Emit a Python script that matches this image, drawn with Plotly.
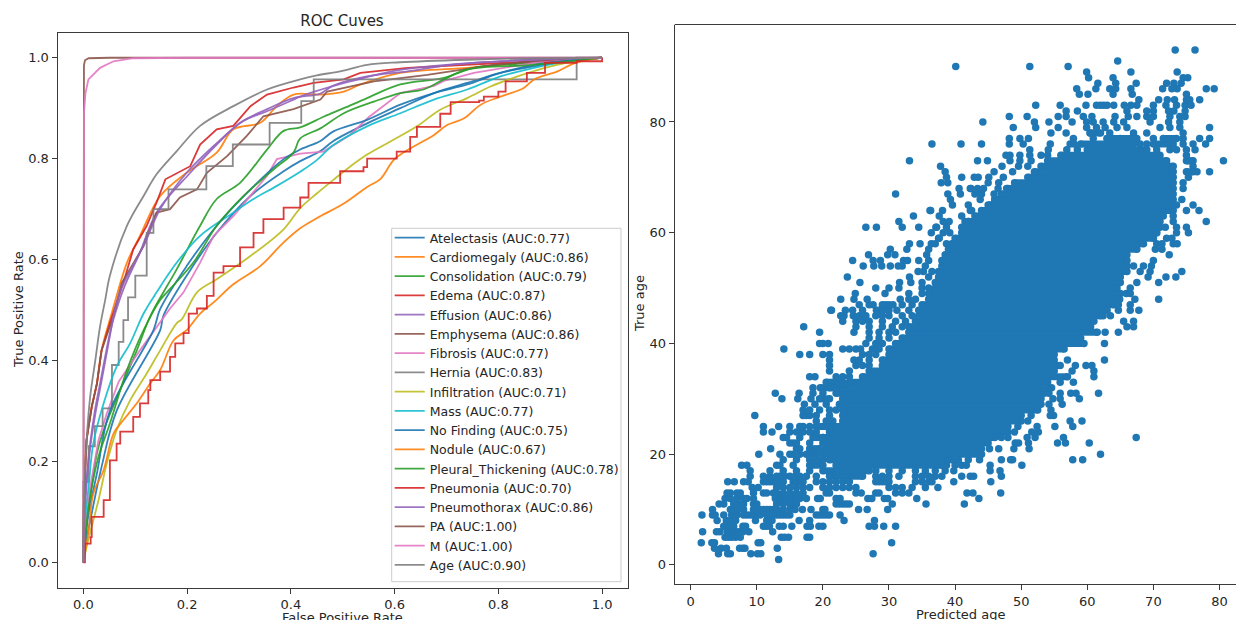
import plotly.graph_objects as go

W, H = 1236, 620
TAB = ["#1f77b4", "#ff7f0e", "#2ca02c", "#d62728", "#9467bd", "#8c564b", "#e377c2", "#7f7f7f", "#bcbd22", "#17becf"]

atelectasis_fpr = [0, .006, .016, .035, .064, .148, .154, .199, .257, .322, .386, .418, .457, .482, .547, .611, .676, .74, .804, .869, .933, 1]
atelectasis_tpr = [0, .045, .097, .189, .30, .46, .488, .568, .653, .726, .775, .795, .815, .835, .87, .9, .93, .95, .97, .983, .993, 1]
cardiomegaly_fpr = [0, .001, .006, .016, .026, .035, .055, .084, .109, .148, .199, .257, .289, .341, .373, .405, .457, .502, .534, .611, .74, .804, .933, 1]
cardiomegaly_tpr = [0, .123, .242, .308, .354, .42, .495, .594, .647, .726, .772, .812, .858, .871, .904, .927, .927, .933, .947, .97, .98, .986, .996, 1]
consolidation_fpr = [0, .001, .013, .026, .039, .068, .103, .129, .18, .225, .257, .302, .354, .386, .418, .463, .502, .547, .611, .695, .753, .869, .966, 1]
consolidation_tpr = [0, .044, .13, .216, .262, .335, .42, .488, .581, .667, .72, .752, .818, .855, .862, .883, .9, .92, .947, .96, .98, .99, .998, 1]
edema_fpr = [0, .001, .006, .016, .026, .035, .051, .058, .077, .096, .122, .141, .158, .206, .225, .257, .289, .322, .354, .405, .444, .502, .534, .625, .74, .869, 1]
edema_tpr = [0, .123, .242, .308, .354, .42, .474, .495, .554, .62, .667, .713, .759, .785, .828, .858, .865, .904, .927, .941, .95, .957, .97, .98, .986, .993, 1]
effusion_fpr = [0, .003, .013, .022, .032, .051, .058, .077, .109, .141, .206, .257, .302, .354, .405, .457, .482, .547, .625, .708, .804, 1]
effusion_tpr = [0, .123, .235, .30, .354, .454, .482, .541, .614, .693, .772, .828, .871, .898, .92, .929, .945, .963, .973, .986, .993, 1]
emphysema_fpr = [0, .001, .006, .016, .026, .035, .058, .074, .116, .141, .167, .186, .219, .238, .277, .315, .347, .405, .457, .47, .56, .663, .791, .869, 1]
emphysema_tpr = [0, .123, .242, .308, .354, .42, .488, .554, .627, .693, .70, .723, .739, .772, .805, .845, .884, .898, .917, .933, .953, .966, .986, .993, 1]
fibrosis_fpr = [0, .003, .013, .029, .045, .068, .109, .167, .193, .225, .251, .289, .354, .373, .418, .463, .514, .55, .611, .676, .695, .753, .869, 1]
fibrosis_tpr = [0, .057, .149, .242, .295, .358, .42, .503, .535, .594, .647, .686, .766, .799, .81, .814, .847, .882, .93, .944, .954, .97, .99, 1]
hernia_fpr = [0, 0, .01, .022, .037, .055, .068, .077, .086, .1, .122, .135, .164, .237, .288, .359, .42, .444, .951, 1]
hernia_tpr = [0, .16, .23, .27, .305, .391, .437, .48, .525, .568, .653, .70, .739, .785, .828, .871, .914, .957, 1, 1]
infiltration_fpr = [0, .006, .029, .045, .064, .09, .122, .148, .18, .19, .219, .257, .322, .386, .418, .45, .482, .514, .547, .592, .643, .688, .74, .785, .837, .901, .966, 1]
infiltration_tpr = [0, .03, .123, .196, .262, .321, .374, .42, .474, .482, .535, .561, .607, .66, .702, .731, .758, .784, .808, .834, .864, .897, .92, .943, .963, .983, .996, 1]
mass_fpr = [0, .001, .01, .019, .039, .064, .09, .116, .141, .18, .225, .289, .328, .373, .418, .45, .482, .547, .611, .676, .74, .804, .869, .933, 1]
mass_tpr = [0, .057, .15, .235, .315, .388, .434, .493, .535, .594, .647, .693, .72, .746, .774, .797, .827, .864, .89, .917, .937, .963, .98, .993, 1]
no_finding_fpr = [0, .01, .026, .051, .135, .148, .199, .257, .322, .386, .418, .457, .482, .547, .611, .676, .74, .804, .869, 1]
no_finding_tpr = [0, .097, .176, .30, .46, .502, .587, .667, .739, .799, .818, .835, .854, .877, .907, .93, .947, .97, .986, 1]
nodule_fpr = [0, .01, .019, .039, .058, .077, .103, .129, .148, .174, .199, .225, .251, .289, .341, .386, .418, .45, .502, .547, .573, .598, .625, .676, .702, .734, .766, .804, .849, .869, .914, .946, 1]
nodule_tpr = [0, .063, .136, .183, .255, .282, .315, .355, .381, .44, .46, .493, .515, .551, .587, .634, .662, .682, .711, .744, .76, .797, .817, .847, .867, .88, .907, .923, .94, .957, .973, .989, 1]
pleural_fpr = [0, .01, .029, .051, .084, .116, .148, .161, .212, .257, .309, .367, .405, .418, .457, .502, .56, .611, .656, .695, .74, .869, 1]
pleural_tpr = [0, .11, .209, .275, .381, .46, .52, .535, .594, .667, .726, .779, .812, .84, .86, .89, .913, .93, .937, .957, .977, .986, 1]
pneumonia_fpr = [0, .003, .014, .016, .026, .039, .051, .064, .071, .084, .096, .109, .125, .129, .148, .167, .177, .193, .203, .219, .238, .251, .27, .302, .328, .347, .386, .418, .434, .482, .495, .54, .547, .604, .63, .643, .676, .688, .708, .763, .772, .8, .814, .855, .89, .951, 1]
pneumonia_tpr = [0, .037, .05, .09, .09, .123, .202, .235, .259, .259, .288, .315, .341, .361, .378, .407, .434, .454, .493, .503, .528, .574, .587, .624, .653, .68, .703, .723, .752, .752, .775, .783, .80, .814, .843, .863, .863, .889, .912, .915, .923, .933, .953, .97, .99, .993, 1]
pneumothorax_fpr = [0, .004, .014, .024, .034, .052, .061, .074, .116, .148, .199, .251, .309, .354, .405, .418, .514, .611, .74, .869, 1]
pneumothorax_tpr = [0, .123, .235, .30, .354, .454, .502, .545, .627, .70, .772, .825, .875, .894, .917, .923, .953, .976, .989, .996, 1]
pa_fpr = [0, 0, .001, .003, .01, .05, 1]
pa_tpr = [0, .93, .985, .995, .999, 1, 1]
m_fpr = [0, 0, .001, .004, .0096, .032, .058, .096, .2, 1]
m_tpr = [0, .80, .89, .93, .957, .98, .993, .999, 1, 1]
age_fpr = [0, .001, .007, .013, .023, .032, .042, .051, .084, .116, .141, .18, .225, .289, .354, .418, .45, .495, .547, .611, .74, .869, 1]
age_tpr = [0, .123, .255, .328, .401, .467, .52, .568, .667, .726, .769, .815, .865, .904, .937, .957, .965, .973, .986, .991, .996, .999, 1]

roc_names = ["Atelectasis (AUC:0.77)", "Cardiomegaly (AUC:0.86)", "Consolidation (AUC:0.79)", "Edema (AUC:0.87)",
             "Effusion (AUC:0.86)", "Emphysema (AUC:0.86)", "Fibrosis (AUC:0.77)", "Hernia (AUC:0.83)",
             "Infiltration (AUC:0.71)", "Mass (AUC:0.77)", "No Finding (AUC:0.75)", "Nodule (AUC:0.67)",
             "Pleural_Thickening (AUC:0.78)", "Pneumonia (AUC:0.70)", "Pneumothorax (AUC:0.86)", "PA (AUC:1.00)",
             "M (AUC:1.00)", "Age (AUC:0.90)"]
roc_fpr = [atelectasis_fpr, cardiomegaly_fpr, consolidation_fpr, edema_fpr, effusion_fpr, emphysema_fpr, fibrosis_fpr,
           hernia_fpr, infiltration_fpr, mass_fpr, no_finding_fpr, nodule_fpr, pleural_fpr, pneumonia_fpr,
           pneumothorax_fpr, pa_fpr, m_fpr, age_fpr]
roc_tpr = [atelectasis_tpr, cardiomegaly_tpr, consolidation_tpr, edema_tpr, effusion_tpr, emphysema_tpr, fibrosis_tpr,
           hernia_tpr, infiltration_tpr, mass_tpr, no_finding_tpr, nodule_tpr, pleural_tpr, pneumonia_tpr,
           pneumothorax_tpr, pa_tpr, m_tpr, age_tpr]
stepped = {"Hernia (AUC:0.83)", "Pneumonia (AUC:0.70)"}
angular = {"Edema (AUC:0.87)", "Emphysema (AUC:0.86)", "Fibrosis (AUC:0.77)", "PA (AUC:1.00)", "M (AUC:1.00)"}

# Solid mass of the scatter: for each true age, the predicted-age span that reads as unbroken blue
core_age = list(range(16, 75))
core_from = [21, 20, 22, 21, 20, 20.5, 20, 20, 21, 21, 23, 23, 23, 22.5, 23, 22, 21, 24, 26, 27, 29, 29, 30, 30, 31, 32, 33,
             33, 34, 34.5, 34.5, 35, 36, 36, 37, 37, 37.5, 37.5, 38, 38, 38.5, 39, 39.5, 40, 41, 41, 42, 43, 44, 45, 46, 47,
             48, 49, 51, 52, 53, 54, 56]
core_to = [26, 27, 38, 39, 44, 44, 45, 46, 48, 48, 50, 50, 52.5, 53, 53, 53.5, 53, 54, 57, 55, 55.5, 55, 55, 56.5, 59.5, 59, 61.5, 60.5,
           61, 62, 63, 64, 64, 65, 64.5, 65, 65, 66, 66, 66, 66, 67.5, 68.5, 70, 70.5, 71, 71, 71.5, 73, 73, 73, 73, 73, 73, 73,
           73, 73, 72, 71]
patch_age = [18, 19, 20, 21, 23, 25, 30, 32, 33, 75, 76, 76, 77, 77, 78, 73, 71]
patch_from = [18, 19, 17.5, 18, 18.5, 19, 19.5, 19.6, 20.5, 60, 59, 70, 63, 71.5, 60.5, 75, 75]
patch_to = [20, 20, 19, 19.5, 20, 20.5, 21, 22, 22.5, 69, 67, 73, 67, 73.5, 62, 76, 76]

# Individually readable dots, listed by true age
dot_age = [1, 2, 3, 4, 5, 6, 7, 8, 9, 10, 11, 12, 13, 14, 15, 16, 17, 18, 19, 20, 21, 22, 23, 24, 25, 26, 27, 28, 29, 30,
           31, 32, 33, 34, 35, 36, 37, 38, 39, 40, 41, 42, 43, 44, 45, 46, 47, 48, 49, 50, 51, 52, 53, 54, 55, 56, 57, 58,
           59, 60, 61, 62, 63, 64, 65, 66, 67, 68, 69, 70, 71, 72, 73, 74, 75, 76, 77, 78, 79, 80, 81, 82, 83, 84, 85, 86,
           87, 88, 89, 90, 91, 93]
dot_pred = [
    [13.3],
    [4.2, 5.6, 6.0, 9.1, 10.1, 10.6, 27.6],
    [3.6, 4.6, 5.4, 7.4, 7.9, 8.2, 13.1],
    [1.6, 3.2, 3.6, 10.2, 10.6, 30.4],
    [5.2, 5.7, 6.2, 6.8, 7.5, 13.7, 14.2, 14.8, 17.6, 18.0],
    [1.8, 3.9, 4.4, 5.5, 6.2, 6.8, 7.3, 7.9, 8.8, 12.4],
    [5.0, 5.8, 6.5, 7.9, 8.3, 11.0, 11.4, 11.9, 13.4, 14.0, 15.3, 17.6, 18.1, 19.4, 20.0, 27.0, 27.8, 29.2, 31.0],
    [4.0, 5.4, 6.0, 6.8, 9.8, 11.5, 12.3, 16.4, 18.0, 23.2, 27.8],
    [1.7, 3.3, 3.7, 5.0, 6.2, 7.0, 8.0, 8.5, 9.0, 9.5, 10, 10.5, 11.5, 12, 13, 13.5, 14, 14.5, 15, 19, 19.5, 20, 20.5, 21, 22.6],
    [3.3, 6, 6.5, 7.2, 8, 9.5, 10, 10.5, 11, 11.5, 12, 12.5, 13, 14, 15, 15.8, 16.9, 18.2, 20, 20.3, 25.4, 26.7, 29.8],
    [4.3, 5, 6.5, 7.2, 8, 9.5, 10, 13, 14, 15, 15.5, 16, 22, 22.5, 23, 23.5, 24, 30.5, 35.6, 41.4],
    [5.2, 6, 7, 8, 8.5, 9.5, 12.8, 13.5, 14, 14.5, 15, 15.5, 16, 16.5, 17.5, 19.2, 19.6, 22, 22.6, 26.8, 27.4, 29.3, 29.8, 34.2, 43.6],
    [5.5, 6, 7, 7.5, 9.5, 11, 11.5, 12.5, 13, 14, 15, 16, 17, 20.5, 21, 25, 25.8, 28, 28.5, 31, 32, 33, 41.8, 42.7, 46.9],
    [9.3, 10.2, 13, 14, 15, 16, 17, 18, 20, 21, 22, 23, 24, 25, 30, 31, 32, 33.5, 35.5, 37.4],
    [5.6, 6.6, 8, 8.7, 11, 11.5, 12, 12.5, 13, 13.5, 14, 15.5, 16, 16.5, 17, 19, 20, 21, 22, 23, 24, 28, 28.5, 29, 29.5, 30, 34, 35, 36, 36.5, 39.8, 45.4],
    [9.0, 11, 12, 13, 13.5, 14.2, 15, 15.8, 16.5, 17.5, 19, 28, 29, 30, 31.5, 34, 35, 36, 37, 38, 41, 42.3, 42.8, 47],
    [9, 12, 14, 16, 18, 28, 30, 32, 34, 35.5, 37, 38.5, 39.8, 45.3, 46.8],
    [7.7, 8.5, 13, 13.5, 15.5, 38.7, 40, 41, 41.7, 45.3, 50.1],
    [14, 16, 18, 39.5, 40.5, 42, 43.7, 47, 48.4, 48.7, 57.8, 59.3],
    [10.3, 13.5, 15, 15.5, 16.5, 62],
    [12.1, 16, 16.5, 45.2, 46.6, 48.9, 51.2],
    [15, 15.5, 16, 18, 49.1, 49.6, 51.1, 55.5, 56.7, 60.3],
    [14, 14.5, 16.5, 47, 48, 50.9, 52.1, 56.4, 67.4],
    [11, 12.3, 15, 16, 17, 18, 19, 49, 51.6, 52.6],
    [11, 13.3, 15, 16.5, 17, 18, 49.5, 52.4, 55.1, 57.8],
    [19, 20.5, 21.5, 51, 57.4, 59.2],
    [9.7, 17, 17.5, 18, 19, 21, 51.5, 54.4, 54.9],
    [17, 18, 19.5, 21, 22, 54.5],
    [17.2, 18.8, 20.5, 54.2, 56.2],
    [13.8, 16.2, 18.2, 54.8, 55.9, 58.8],
    [12.8, 16.4, 18.5, 20, 54.2, 55.9, 57.5, 58.3, 61.7],
    [18.5, 54, 54.6],
    [23, 55.9, 57.9],
    [18, 18.8, 22, 23, 24, 61],
    [21, 24, 57.7, 61],
    [21, 25, 26, 27, 55.9, 58.2, 59.8, 60.7],
    [21, 24.7, 25.5, 27, 57, 62.6],
    [16.5, 18, 20, 21, 26, 27, 28],
    [14.1, 23, 24, 25, 25.7, 27.5, 28.5],
    [19.5, 20, 20.8, 26.5, 28, 29, 62.6],
    [27, 28.5, 30],
    [19.5, 24.7, 27, 28.5, 30, 31, 62.7, 64.7],
    [17.1, 25, 27, 29, 30.5, 32, 66, 67],
    [23, 25, 26, 27, 29, 31, 32.5, 65.5, 67],
    [22.7, 23.2, 24.6, 25.5, 26.1, 26.5, 28, 29, 30, 32, 33.5, 62.4, 63.5],
    [21.2, 21.3, 23.4, 24.5, 26, 28.1, 28.5, 29.1, 30, 31.2, 33, 64.7, 66.5, 67.8],
    [25.5, 27, 27.6, 29, 29.5, 30, 30.6, 32, 33.5, 64.7, 66.5],
    [22.7, 24.7, 26.7, 31.7, 33, 34, 64.9, 67.2, 70.8],
    [24.9, 29.4, 33, 35, 65.9, 66.5],
    [28, 30, 31.5, 35, 36, 66.5],
    [25.6, 31.6, 33.3, 35, 67.5, 70.8],
    [23.7, 33.1, 36, 69.2, 71.9, 73.4],
    [34.4, 35.2, 36.5, 68, 69.5, 74.3],
    [26.1, 27.7, 28.9, 30.2, 31.4, 32, 35.5, 67, 68.5, 69.7],
    [24.5, 27.6, 28.7, 32.2, 32.8, 34.5, 36, 70],
    [26.9, 29.8, 30.9, 35.7, 72.4],
    [30.2, 32.7, 36, 40.1, 70.3, 71.3],
    [33.1, 34.7, 36.4, 37, 38.7, 70.5, 71.3, 73, 73.6],
    [37.5, 37.6, 72, 72.8],
    [36.4, 38.2, 39.2, 70.5, 73.5, 75.3],
    [26.5, 28.1, 32, 34.5, 37.1, 37.2, 38.7, 71.8, 73.5, 75],
    [31.5, 38.2, 39.1, 41.5, 42, 73, 78],
    [33.7, 37.6, 41, 73],
    [36.2, 36.3, 38.1, 42.3, 42.5, 75, 76.9],
    [39.6, 42, 45.3, 73.5, 76],
    [39.3, 43.8, 46, 74.3],
    [31, 38.9, 40.8, 43, 44, 45.9, 47.9],
    [40.6, 42.3, 42.4, 43.4, 44.3, 46.5, 47.8, 74.5],
    [37.9, 38.9, 45, 46.6, 74.5],
    [38.7, 41, 42.9, 43.5, 45.1, 47.3, 75.3],
    [38.5, 45.9, 48.7, 76.6, 78.5],
    [37.8, 47.1, 49.6, 51, 76],
    [33.1, 43.4, 44.9, 48.3, 49.8, 51.5, 75.3, 80.6],
    [47.7, 48.3, 49.8, 51.3, 53, 54, 75],
    [51.3, 54.1, 56.9, 58.5, 70.5, 72.5, 73.5, 75, 76.3],
    [36.5, 40.9, 44, 48.2, 50.3, 54.4, 57.4, 58, 68, 69, 74.5, 76, 77.9],
    [48.2, 49.8, 51.1, 57.9, 60.9, 63, 65, 67.5, 70, 74.5, 77, 78.5],
    [54.5, 56.8, 60.4, 63.4, 67, 69, 74.5],
    [48.8, 52.2, 55.6, 59.9, 61.4, 62.7, 64.5, 66, 71, 72.5, 74, 78.5],
    [44.2, 52, 54.2, 57.7, 59.9, 60.9, 62.4, 64, 65.5, 69.5, 72.3, 74],
    [48.2, 50.9, 55.6, 56.8, 59.4, 60.7, 64.2, 66.2, 67.5, 69, 70, 72.5, 74, 74.8],
    [56.8, 58.5, 66, 69, 70, 72.3, 73.1, 74.8],
    [52.2, 55.9, 59.8, 61.4, 62, 62.5, 63, 64, 65.6, 66.6, 67.5, 70, 71.9, 73.5, 74.8, 75.7],
    [67.8, 70.8, 72.1, 73.2, 75, 75.5, 77],
    [58.8, 60.1, 63.9, 66.8, 75],
    [58.4, 61.3, 63.4, 64.3, 66.6, 71.4, 72.8, 73.6, 78, 79.2],
    [61.6, 64.3, 67.4, 72, 73.1, 74.2],
    [60.2, 63.9, 74.5, 75.2],
    [59.9, 66.6, 73.6],
    [40.1, 51.3, 57.1],
    [64.6],
    [73.3, 76.3],
]

core_x, core_y = [], []
for a, lo, hi in zip(core_age + patch_age, core_from + patch_from, core_to + patch_to):
    core_x += [lo, hi, None]
    core_y += [a, a, None]
pred_age = [p for row in dot_pred for p in row]
true_age = [a for a, row in zip(dot_age, dot_pred) for _ in row]

fig = go.Figure()
for i, name in enumerate(roc_names):
    shape = "hv" if name in stepped else "linear" if name in angular else "spline"
    fig.add_trace(go.Scatter(
        x=roc_fpr[i], y=roc_tpr[i], mode="lines", name=name, opacity=0.9,
        line=dict(color=TAB[i % 10], width=1.8, shape=shape),
        xaxis="x", yaxis="y"))
BLUE = TAB[0]
fig.add_trace(go.Scatter(x=core_x, y=core_y, mode="lines+markers", showlegend=False, hoverinfo="skip",
                         line=dict(color=BLUE, width=7), marker=dict(color=BLUE, size=7.5),
                         xaxis="x2", yaxis="y2"))
fig.add_trace(go.Scatter(x=pred_age, y=true_age, mode="markers", showlegend=False,
                         marker=dict(color=BLUE, size=7.5, line=dict(width=0)), xaxis="x2", yaxis="y2"))

INK = "#262626"
SPINE = "#3a3a3a"
axis = dict(showgrid=False, zeroline=False, showline=True, linecolor=SPINE, linewidth=1, ticks="outside", ticklen=5,
            tickwidth=1, tickcolor=SPINE, tickfont=dict(size=13, color=INK), automargin=False)


def label(text, px, py, angle=0):
    return dict(text=text, xref="paper", yref="paper", x=px / W, y=1 - py / H, xanchor="center", yanchor="middle",
                showarrow=False, textangle=angle, font=dict(size=13, color=INK))


fig.update_layout(
    width=W, height=H, autosize=False, margin=dict(l=0, r=0, t=0, b=0), plot_bgcolor="white", paper_bgcolor="white",
    font=dict(family="DejaVu Sans", size=13, color=INK),
    title=dict(text="ROC Cuves", x=342 / W, xanchor="center", y=1 - 21 / H, yanchor="middle",
               font=dict(size=15, color=INK)),
    xaxis=dict(axis, domain=[57.5 / W, 628 / W], range=[-0.05, 1.05], mirror=True, anchor="y",
               tickvals=[0, .2, .4, .6, .8, 1], ticktext=["0.0", "0.2", "0.4", "0.6", "0.8", "1.0"]),
    yaxis=dict(axis, domain=[1 - 587.5 / H, 1 - 32.5 / H], range=[-0.05, 1.05], mirror=True, anchor="x",
               tickvals=[0, .2, .4, .6, .8, 1], ticktext=["0.0", "0.2", "0.4", "0.6", "0.8", "1.0"]),
    xaxis2=dict(axis, domain=[674.7 / W, 1], range=[-2.42, 82.5], anchor="y2", tickvals=list(range(0, 81, 10))),
    yaxis2=dict(axis, domain=[1 - 584.3 / H, 1 - 24.5 / H], range=[-3.5, 97.6], anchor="x2",
                tickvals=[0, 20, 40, 60, 80]),
    legend=dict(x=389.7 / W, xanchor="left", y=1 - 223 / H, yanchor="top", bgcolor="rgba(0,0,0,0)",
                borderwidth=0, itemwidth=30, font=dict(size=12.5, color=INK), tracegroupgap=0),
    annotations=[label("False Positive Rate", 342, 617), label("True Positive Rate", 18, 310, -90),
                 label("Predicted age", 961, 614), label("True age", 640, 304, -90)],
    shapes=[dict(type="line", xref="paper", yref="paper", x0=674.7 / W, x1=1, y0=1 - 24.5 / H, y1=1 - 24.5 / H,
                 line=dict(color=SPINE, width=1)),
            dict(type="rect", xref="paper", yref="paper", x0=391.7 / W, x1=621 / W, y0=1 - 581.7 / H, y1=1 - 228.3 / H,
                 layer="above", fillcolor="rgba(255,255,255,0.8)", line=dict(color="#cccccc", width=1))],
)
fig.write_html("out.html", config={"displayModeBar": False},
               post_script="document.body.style.margin='0';document.body.style.overflow='hidden';")
